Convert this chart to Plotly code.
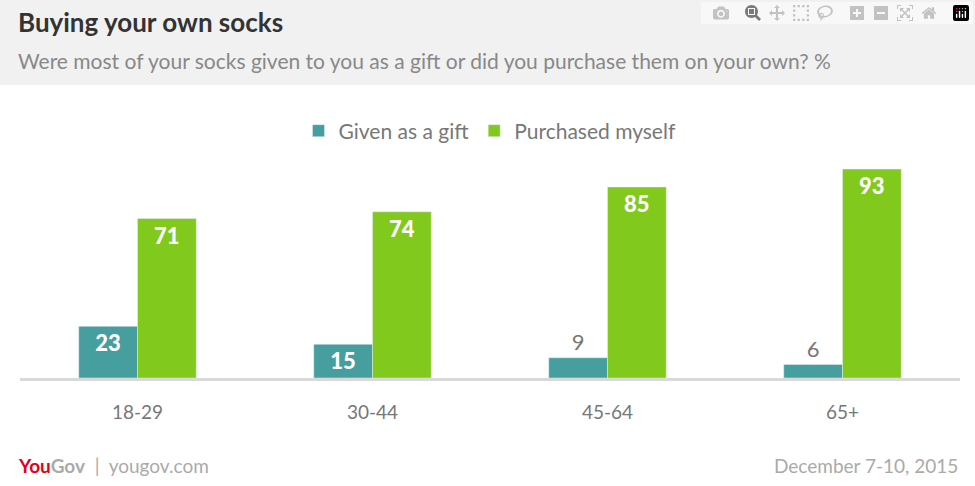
import plotly.graph_objects as go

categories = ["18-29", "30-44", "45-64", "65+"]
gift = [23, 15, 9, 6]
purchased = [71, 74, 85, 93]

TEAL = "#479e9f"
GREEN = "#82c91e"
FONT = "Lato"

def pos(vals):
    return ["inside" if v >= 12 else "outside" for v in vals]

fig = go.Figure()
for name, vals, col in [("Given as a gift", gift, TEAL), ("Purchased myself", purchased, GREEN)]:
    fig.add_trace(go.Bar(
        x=categories, y=vals, name=name, marker_color=col,
        text=[str(v) for v in vals], textposition=pos(vals),
        insidetextanchor="end", constraintext="none", cliponaxis=False,
        outsidetextfont=dict(family=FONT, size=22, color="#777777"),
        insidetextfont=dict(family=FONT + " Black", size=22, color="white"),
    ))

def py(p):
    return (486 - 108 - p) / 228

fig.update_layout(
    width=975, height=486, barmode="group", bargap=0.5, bargroupgap=0,
    plot_bgcolor="white", paper_bgcolor="white",
    margin=dict(l=20, r=15, t=150, b=108),
    font=dict(family=FONT, color="#777777"),
    showlegend=True,
    legend=dict(orientation="h", x=0.5, xanchor="center", y=py(131), yanchor="middle",
                font=dict(size=21, color="#777777"), traceorder="normal"),
    xaxis=dict(showline=True, linecolor="#d9d9d9", linewidth=3, ticks="",
               tickfont=dict(size=19, color="#777777"), ticklabelstandoff=15,
               showgrid=False),
    yaxis=dict(range=[0, 101.5], visible=False, showgrid=False),
    shapes=[dict(type="rect", xref="paper", yref="paper", x0=-20/940, x1=960/940,
                 y0=py(85), y1=py(0), layer="below",
                 fillcolor="#f1f1f1", line_width=0)],
)

fig.add_annotation(text="<b>Buying your own socks</b>", xref="paper", yref="paper",
                   x=-4/940, y=py(22), xanchor="left", yanchor="middle", showarrow=False,
                   font=dict(size=26, color="#333333", family=FONT))
fig.add_annotation(text="Were most of your socks given to you as a gift or did you purchase them on your own? %",
                   xref="paper", yref="paper", x=-4/940, y=py(60), xanchor="left", yanchor="middle",
                   showarrow=False, font=dict(size=21, color="#888888", family=FONT))
fig.add_annotation(text="<b><span style='color:#e3001b'>You</span><span style='color:#aaaaaa'>Gov</span></b><span style='color:#aaaaaa'>  |  yougov.com</span>",
                   xref="paper", yref="paper", x=-4/940, y=py(466), xanchor="left", yanchor="middle",
                   showarrow=False, font=dict(size=19, family=FONT))
fig.add_annotation(text="December 7-10, 2015", xref="paper", yref="paper", x=1.0, y=py(466),
                   xanchor="right", yanchor="middle", showarrow=False,
                   font=dict(size=19, color="#aaaaaa", family=FONT))

fig.write_html("out.html", post_script="document.body.style.margin='0';")
